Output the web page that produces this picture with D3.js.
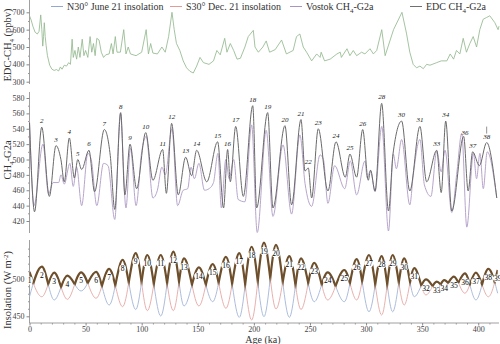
<!DOCTYPE html>
<html><head><meta charset="utf-8">
<script src="https://cdn.jsdelivr.net/npm/d3@7"></script>
<style>
body{margin:0;background:#fff}
svg{display:block;font-family:"Liberation Serif","Times New Roman",serif}
</style></head><body>
<svg id="c" width="500" height="344"></svg>
<script>
// ---------- DATA ----------
// Top panel: EDC CH4 (ppbv)
const edcAge = [0,1.5,3,5,7,8.5,10,11,11.8,12.5,13.2,14,14.8,16,18,20,22,24,26,27.5,29,31,33,35,36.5,38,39,40.5,42,43.5,45,47,48.5,50,52,54,55.5,57,58.5,60,62,64,66,68,71,73,74.5,76.5,78,81,84,86,88,90,95,100,104,106,108,110,114,118,121,124,127,129,131,134,137,140,143,146,149,152,155,160,164,167,170,174,176,179,182,185,188,192,195,199.5,201,204,208,211,214,219,224.7,229,235,238,241,244,247,251.5,256,259,260,263,268,274,277,278,283,285.6,288.6,291.6,296,299,303.5,306.5,309.5,314,317,321.5,324.5,332,336,339,342,345,348,351,354,357,363,367,372,375,378,380.6,383.6,386.6,389.5,392.5,395.5,398.5,401.4,404.4,407.4,410.3,414.8,417.7,418.5];
const edcCH4 = [680,655,620,585,575,590,685,600,505,560,640,560,510,450,395,372,365,370,362,385,372,395,390,410,400,545,440,480,430,500,440,545,450,480,440,560,470,520,450,550,540,470,440,455,460,520,460,560,470,470,600,460,500,460,450,470,600,460,520,465,460,500,470,560,700,600,520,480,420,380,360,350,390,440,410,400,420,480,455,550,470,520,480,430,435,500,560,596,500,470,500,535,470,485,540,460,480,560,575,500,470,420,460,440,470,420,430,460,470,440,490,450,480,450,470,460,490,460,480,600,450,540,600,700,580,470,400,380,390,375,400,395,410,420,420,460,430,480,460,550,470,520,560,500,600,660,670,680,640,600,620];

// Middle panel: CH4-G2a
const edcG2aAge = [0,4.5,10.9,17.7,23.6,28,31,35.5,40,43,46.5,53,58,66.7,72,76,81.3,85,89.6,95.5,103.6,110,118.7,122,126.7,132.6,139.2,144.5,149,158,167.7,173,176.6,179,183.8,190.6,199,202.5,212.3,217,227.7,233.6,242,245.6,248.5,251.5,257.4,266,273.2,281.5,285.6,291.6,297,302,304,308,313.9,320,324,331.7,339,348,354,363,367,371,376.4,387,391,395,401,407.5,416.5];
const edcG2a = [548,432,542,452,518,500,471,528,476,500,487,512,458,539,505,435,561,454,520,462,535,473,513,456,547,454,503,479,512,471,523,437,513,471,543,452,570,437,561,437,544,441,552,485,489,450,540,459,523,477,507,477,539,473,486,459,573,433,507,550,459,543,471,512,457,550,433,530,459,510,492,522,450];
const vosG2aAge = [0,4,12,17,21,26,28,31,36,39,42,46.5,52,55,60,66,70,76,81,86,90,95,100,104,110,114,118,121,127,132,137,141,144,147,151,156,160,164,168,171,175,178,182,186,192,198,203,211,217,226,233.6,241,245.6,251.5,259,262,266,272,281,286,291.6,299,301,304,308,314,320,324.3,327,331.7,339,342,348,352,357.8,363,367,370.4,376.4,381,385.3,389.8,395.7,398.5,401.5,404.5,408,416.5];
const vosG2a = [550,440,520,455,470,470,480,468,495,465,490,440,508,500,440,495,492,422,560,437,515,440,510,530,450,460,490,480,540,440,460,462,490,475,495,460,462,470,508,437,500,475,500,448,445,545,405,538,426,519,429,532,469,439,506,500,443,492,462,498,454,498,476,486,458,543,407,507,488,526,441,479,526,467,452,511,484,512,431,484,534,412,508,475,508,462,510,450];
const peakLabels = [2,3,4,5,6,7,8,9,10,11,12,13,14,15,16,17,18,19,20,21,22,23,24,25,26,28,30,31,33,34,36,37,38];
const peakAge = [10.9,23.6,35.5,43,53,66.7,81.3,89.6,103.6,118.7,126.7,139.2,149,167.7,176.6,183.8,199,212.3,227.7,242,248.5,257.4,273.2,285.6,297,313.9,331.7,348,363,371,388.1,395,407.5];
const peakVal = [542,518,528,500,512,539,561,520,535,513,547,503,512,523,513,543,570,561,544,552,489,540,523,507,539,573,550,543,512,550,527,510,522];

// Bottom panel: insolation (W m-2) at each precession lobe
const insAge = [0,11,22,33.7,46,59.3,71,83,94.7,105,117,128.2,137.7,151,163.3,175.1,187,198,209,219.7,231.6,242,253.8,265.8,280.6,291.6,302.6,313.9,323.7,334,343,353.4,363,369.7,378.3,388.1,397.9,409,417.3];
const nJune = [476,516,471.7,504,483.6,509,465,525,459,531.5,450.4,536,463.7,515,469.4,529,448.6,542.5,449.5,545,448.6,527,469.4,508.5,469.4,526,456,530,456,527,476,499,486,498,487.2,507,471.7,513,480.6];
const sDec  = [509,476,508,472.6,508.5,474,513,462.8,534,457.5,531.5,457.5,527,463.7,519.5,460.6,534,445,548,459.7,530,459,521,471.7,511.6,471.7,531.5,451.7,531.5,465,514,478.3,496,489.4,502.7,480.6,508,476,511.6];

const xTicks = [0,50,100,150,200,250,300,350,400];
const topTicks = [300,400,500,600,700];
const midTicks = [420,440,460,480,500,520,540,560,580];
const insTicks = [450,500];
const legendItems = [
  {label:"N30° June 21 insolation", color:"#93a8cf"},
  {label:"S30° Dec. 21 insolation", color:"#e39a98"},
  {label:"Vostok CH", sub:"4", rest:"-G2a", color:"#ab94c2"},
  {label:"EDC CH", sub:"4", rest:"-G2a", color:"#707070"}
];

// ---------- SCALES ----------
const svg = d3.select('#c');
const x = d3.scaleLinear().domain([0,418.5]).range([29.5,499]);
const yTop = d3.scaleLinear().domain([300,700]).range([81.7,12.3]);
const yMid = d3.scaleLinear().domain([420,580]).range([221,98]);
const yIns = d3.scaleLinear().domain([450,500]).range([316.3,278.7]);
const AX = 29.5;

function zip(a,b){return a.map((v,i)=>[v,b[i]]);}

// ---------- AXES ----------
function yAxis(scale, ticks, minor, y0, y1){
  const g = svg.append('g').attr('transform',`translate(${AX},0)`);
  g.append('line').attr('x1',0).attr('x2',0).attr('y1',y0).attr('y2',y1).attr('stroke','#888').attr('stroke-width',0.8);
  const a = d3.axisLeft(scale).tickValues(ticks).tickSize(3).tickPadding(2).tickFormat(d3.format('d'));
  const ga = g.append('g').call(a);
  ga.select('.domain').remove();
  ga.selectAll('line').attr('stroke','#888');
  ga.selectAll('text').attr('font-size',8).attr('fill','#444').attr('font-family','Liberation Serif');
  const gm = g.append('g').call(d3.axisLeft(scale).tickValues(minor).tickSize(1.5).tickFormat(''));
  gm.select('.domain').remove();
  gm.selectAll('line').attr('stroke','#999');
}
yAxis(yTop, topTicks, [350,450,550,650], 0, 84);
yAxis(yMid, midTicks, [430,450,470,490,510,530,550,570], 92, 233);
yAxis(yIns, insTicks, [460,470,480,490,510,520,530,540], 240, 323);

const gx = svg.append('g').attr('transform','translate(0,323)');
gx.append('line').attr('x1',AX).attr('x2',499).attr('stroke','#888').attr('stroke-width',0.8);
const ax = gx.append('g').call(d3.axisBottom(x).tickValues(xTicks).tickSize(2.5).tickPadding(1));
ax.select('.domain').remove();
ax.selectAll('line').attr('stroke','#888');
ax.selectAll('text').attr('font-size',8).attr('fill','#444').attr('font-family','Liberation Serif');
const axm = gx.append('g').call(d3.axisBottom(x).tickValues(d3.range(10,420,10).filter(v=>v%50)).tickSize(1.5).tickFormat(''));
axm.select('.domain').remove();
axm.selectAll('line').attr('stroke','#999');

// axis titles
function ytitle(cx, cy, parts){
  const t = svg.append('text').attr('transform',`translate(${cx},${cy}) rotate(-90)`)
    .attr('text-anchor','middle').attr('font-size',10.5).attr('fill','#333');
  parts.forEach(p=>{
    const s = t.append('tspan').text(p.t);
    if(p.sub){s.attr('font-size',7).attr('dy',2.5);}
    if(p.sup){s.attr('font-size',7).attr('dy',-3.5);}
    if(p.back){s.attr('dy',p.back);}
  });
}
ytitle(11,45,[{t:'EDC-CH'},{t:'4',sub:true},{t:' (ppbv)',back:-2.5}]);
ytitle(11,160,[{t:'CH'},{t:'4',sub:true},{t:'-G2a',back:-2.5}]);
ytitle(11,290,[{t:'Insolation (W m'},{t:'-2',sup:true},{t:')',back:3.5}]);
svg.append('text').attr('x',263).attr('y',343).attr('text-anchor','middle')
  .attr('font-size',10).attr('fill','#333').text('Age (ka)');

// ---------- TOP PANEL ----------
svg.append('path').datum(zip(edcAge,edcCH4))
  .attr('fill','none').attr('stroke','#93b98f').attr('stroke-width',0.85)
  .attr('d', d3.line().x(d=>x(d[0])).y(d=>yTop(d[1])));

// ---------- MIDDLE PANEL ----------
const lineMid = d3.line().x(d=>x(d[0])).y(d=>yMid(d[1])).curve(d3.curveMonotoneX);
svg.append('path').datum(zip(vosG2aAge,vosG2a))
  .attr('fill','none').attr('stroke','#b8a5cc').attr('stroke-width',1).attr('d',lineMid);
svg.append('path').datum(zip(edcG2aAge,edcG2a))
  .attr('fill','none').attr('stroke','#6a6a6a').attr('stroke-width',1).attr('d',lineMid);
svg.append('g').selectAll('text').data(peakLabels).join('text')
  .attr('x',(d,i)=>x(peakAge[i])).attr('y',(d,i)=>yMid(peakVal[i])-4)
  .attr('text-anchor','middle').attr('font-size',7).attr('font-style','italic').attr('fill','#222')
  .text(d=>d);
// marker tick above peak 38
svg.append('line').attr('x1',x(407.5)).attr('x2',x(407.5))
  .attr('y1',yMid(peakVal[peakVal.length-1])-16).attr('y2',yMid(peakVal[peakVal.length-1])-9)
  .attr('stroke','#666').attr('stroke-width',0.7);

// ---------- BOTTOM PANEL ----------
const lineIns = d3.line().x(d=>x(d[0])).y(d=>yIns(d[1])).curve(d3.curveMonotoneX);
const nData = zip(insAge,nJune), sData = zip(insAge,sDec);
const defs = svg.append('defs');
defs.append('clipPath').attr('id','aboveS').append('path').datum(sData)
  .attr('d', d3.area().x(d=>x(d[0])).y0(200).y1(d=>yIns(d[1])).curve(d3.curveMonotoneX));
defs.append('clipPath').attr('id','aboveN').append('path').datum(nData)
  .attr('d', d3.area().x(d=>x(d[0])).y0(200).y1(d=>yIns(d[1])).curve(d3.curveMonotoneX));
svg.append('path').datum(nData).attr('fill','none').attr('stroke','#a3b6d8').attr('stroke-width',0.9).attr('d',lineIns);
svg.append('path').datum(sData).attr('fill','none').attr('stroke','#e5a7a4').attr('stroke-width',0.9).attr('d',lineIns);
svg.append('path').datum(nData).attr('fill','none').attr('stroke','#6e4f2c').attr('stroke-width',2.2)
  .attr('clip-path','url(#aboveS)').attr('d',lineIns);
svg.append('path').datum(sData).attr('fill','none').attr('stroke','#6e4f2c').attr('stroke-width',2.2)
  .attr('clip-path','url(#aboveN)').attr('d',lineIns);
const lab = svg.append('g').selectAll('g').data(insAge).join('g')
  .attr('transform',(d,i)=>`translate(${x(d)},${yIns(Math.max(nJune[i],sDec[i]))+8.5})`);
lab.append('ellipse').attr('rx',(d,i)=>i<9?3.4:4.8).attr('ry',4).attr('fill','#fff');
lab.append('text').attr('y',2.6)
  .attr('text-anchor','middle').attr('font-size',7.5).attr('fill','#000')
  .style('font-family','"Liberation Serif", serif')
  .text((d,i)=>i+1);

// ---------- LEGEND ----------
const legX = [51,170,290,410];
const lg = svg.append('g');
legendItems.forEach((it,i)=>{
  lg.append('line').attr('x1',legX[i]).attr('x2',legX[i]+12).attr('y1',6.5).attr('y2',6.5)
    .attr('stroke',it.color).attr('stroke-width',1);
  const t = lg.append('text').attr('x',legX[i]+16).attr('y',10).attr('font-size',10).attr('fill','#333');
  t.append('tspan').text(it.label);
  if(it.sub){
    t.append('tspan').attr('font-size',7).attr('dy',2.5).text(it.sub);
    t.append('tspan').attr('dy',-2.5).text(it.rest);
  }
});
</script></body></html>
